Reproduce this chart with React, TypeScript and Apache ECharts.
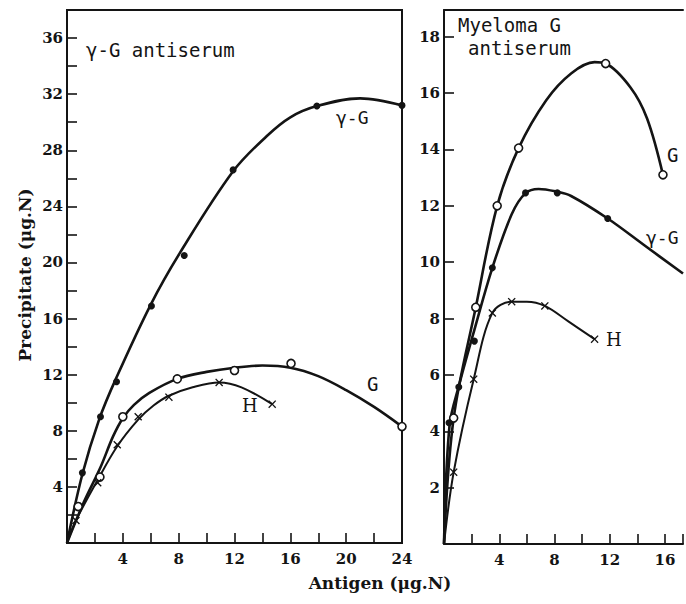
import React, { useEffect, useRef } from "react";
import * as echarts from "echarts";

// ---------- Data ----------
// Left panel: γ-G antiserum
const leftGammaPoints = [[1.1, 5.0], [2.4, 9.0], [3.55, 11.5], [6.05, 16.9], [8.4, 20.5], [11.9, 26.6], [17.9, 31.15], [24, 31.2]];
const leftGammaCurve = [[0, 0], [1.1, 4.9], [2.3, 8.8], [3.5, 11.7], [6, 17.0], [8.1, 20.7], [11.9, 26.5], [14.3, 29.0], [16, 30.35], [17.9, 31.15], [21, 31.7], [24, 31.2]];
const leftGPoints = [[0.8, 2.6], [2.36, 4.7], [4.0, 9.0], [7.9, 11.7], [12.0, 12.3], [16.05, 12.8], [24, 8.3]];
const leftGCurve = [[0, 0], [1.2, 2.9], [2.4, 5.4], [3.3, 7.6], [4, 8.9], [4.8, 9.85], [5.9, 10.7], [7.9, 11.7], [10, 12.2], [12, 12.5], [14, 12.65], [16, 12.5], [18, 11.9], [20, 10.9], [22, 9.7], [24, 8.3]];
const leftHPoints = [[0.64, 1.6], [2.2, 4.3], [3.6, 7.0], [5.1, 9.0], [7.3, 10.4], [10.9, 11.45], [14.7, 9.9]];
const leftHCurve = [[0, 0], [0.64, 1.6], [2.2, 4.5], [3.6, 6.9], [5.1, 8.8], [6.2, 9.8], [7.3, 10.5], [9, 11.1], [10.9, 11.45], [12.5, 11.1], [14.7, 9.9]];

// Right panel: Myeloma G antiserum
const rightGPoints = [[0.7, 4.47], [2.3, 8.4], [3.85, 12.0], [5.4, 14.05], [11.7, 17.05], [15.85, 13.1]];
const rightGCurve = [[0, 0], [0.7, 4.47], [2.3, 8.4], [3.85, 12.0], [5.4, 14.05], [7.4, 15.75], [9.2, 16.7], [10.9, 17.1], [11.7, 17.05], [13.5, 16.2], [14.7, 15.1], [15.85, 13.1]];
const rightGammaPoints = [[0.36, 4.3], [1.07, 5.57], [2.2, 7.2], [3.5, 9.8], [5.9, 12.46], [8.2, 12.46], [11.85, 11.55]];
const rightGammaCurve = [[0, 0], [0.4, 4.2], [1.07, 5.6], [2.2, 7.6], [3.5, 9.8], [4.9, 11.7], [5.9, 12.45], [6.85, 12.6], [8.2, 12.5], [9.2, 12.35], [11.85, 11.55], [14.5, 10.6], [17.3, 9.6]];
const rightHPoints = [[0.7, 2.55], [2.15, 5.85], [3.5, 8.2], [4.9, 8.6], [7.3, 8.45], [10.9, 7.27]];
const rightHCurve = [[0, 0], [0.7, 2.55], [2.15, 5.85], [3.5, 8.2], [4.9, 8.6], [6, 8.6], [7.3, 8.45], [9, 7.9], [10.9, 7.27]];

// Axis label steps
const leftXLabelStep = 4;
const leftYLabelStep = 4;
const rightXLabelStep = 4;
const rightYLabelStep = 2;

const INK = "#141414";
const CROSS = "path://M0,1.2 L1.2,0 L5,3.8 L8.8,0 L10,1.2 L6.2,5 L10,8.8 L8.8,10 L5,6.2 L1.2,10 L0,8.8 L3.8,5 Z";
const tickFont = "DejaVu Serif";
const letterFont = "DejaVu Sans Mono";

function stepFormatter(step: number) {
  return (v: number) => {
    if (v <= 0) return "";
    const r = v / step;
    return Math.abs(r - Math.round(r)) < 1e-6 ? String(Math.round(v)) : "";
  };
}

function makeXAxis(gridIndex: number, max: number, step: number) {
  return {
    type: "value",
    gridIndex,
    min: 0,
    max,
    interval: 2,
    axisLine: { show: true, lineStyle: { color: INK, width: 2 } },
    axisTick: { show: true, inside: true, length: 10, lineStyle: { color: INK, width: 1.6 } },
    axisLabel: {
      formatter: stepFormatter(step),
      color: INK,
      fontFamily: tickFont,
      fontWeight: "bold",
      fontSize: 15,
      margin: 8,
    },
    splitLine: { show: false },
  };
}

function makeTopAxis(gridIndex: number, max: number) {
  return {
    type: "value",
    gridIndex,
    position: "top",
    min: 0,
    max,
    axisLine: { show: true, lineStyle: { color: INK, width: 2 } },
    axisTick: { show: false },
    axisLabel: { show: false },
    splitLine: { show: false },
  };
}

function makeYAxis(gridIndex: number, max: number, step: number) {
  return {
    type: "value",
    gridIndex,
    min: 0,
    max,
    interval: 2,
    axisLine: { show: true, lineStyle: { color: INK, width: 2 } },
    axisTick: { show: true, inside: true, length: 10, lineStyle: { color: INK, width: 1.6 } },
    axisLabel: {
      formatter: stepFormatter(step),
      color: INK,
      fontFamily: tickFont,
      fontWeight: "bold",
      fontSize: 15,
      margin: 4,
    },
    splitLine: { show: false },
  };
}

function curve(data: number[][], axis: number, width = 2.6) {
  return {
    type: "line",
    xAxisIndex: axis,
    yAxisIndex: axis,
    data,
    smooth: 0.35,
    showSymbol: false,
    symbol: "none",
    lineStyle: { color: INK, width },
    z: 2,
    silent: true,
  };
}

function points(data: number[][], axis: number, kind: "dot" | "open" | "cross") {
  const base: any = {
    type: "scatter",
    xAxisIndex: axis,
    yAxisIndex: axis,
    data,
    z: 5,
    silent: true,
  };
  if (kind === "dot") {
    base.symbol = "circle";
    base.symbolSize = 7;
    base.itemStyle = { color: INK, opacity: 1 };
  } else if (kind === "open") {
    base.symbol = "circle";
    base.symbolSize = 8;
    base.itemStyle = { color: "#ffffff", borderColor: INK, borderWidth: 1.6, opacity: 1 };
  } else {
    base.symbol = CROSS;
    base.symbolSize = 8;
    base.itemStyle = { color: INK, opacity: 1 };
  }
  return base;
}

function txt(text: string, x: number, y: number, font: string, size: number, weight = "normal", align = "left") {
  return {
    type: "text",
    x,
    y,
    style: {
      text,
      fill: INK,
      font: `${weight} ${size}px "${font}"`,
      textAlign: align,
      textVerticalAlign: "middle",
    },
    z: 10,
  };
}

export default function App() {
  const ref = useRef<HTMLDivElement>(null);
  useEffect(() => {
    if (!ref.current) return;
    const chart = echarts.init(ref.current, null, { renderer: "svg" });
    const option: any = {
      animation: false,
      backgroundColor: "#ffffff",
      grid: [
        { left: 67, top: 10, width: 335, height: 533, show: true, borderColor: INK, borderWidth: 2, backgroundColor: "transparent" },
        { left: 444, top: 10, width: 242, height: 534, show: false },
      ],
      xAxis: [makeXAxis(0, 24, leftXLabelStep), makeXAxis(1, 17.3, rightXLabelStep), makeTopAxis(1, 17.3)],
      yAxis: [makeYAxis(0, 38, leftYLabelStep), makeYAxis(1, 18.95, rightYLabelStep)],
      series: [
        curve(leftGammaCurve, 0),
        curve(leftGCurve, 0),
        curve(leftHCurve, 0, 2),
        points(leftGammaPoints, 0, "dot"),
        points(leftGPoints, 0, "open"),
        points(leftHPoints, 0, "cross"),
        curve(rightGCurve, 1),
        curve(rightGammaCurve, 1),
        curve(rightHCurve, 1, 2),
        points(rightGPoints, 1, "open"),
        points(rightGammaPoints, 1, "dot"),
        points(rightHPoints, 1, "cross"),
      ],
      graphic: [
        txt("γ-G antiserum", 86, 50, letterFont, 19, "normal"),
        txt("γ-G", 336, 117, letterFont, 18, "normal"),
        txt("G", 367, 384, letterFont, 19, "normal"),
        txt("H", 242, 405, tickFont, 18, "normal"),
        txt("Myeloma G", 458, 25, letterFont, 19, "normal"),
        txt("antiserum", 468, 48, letterFont, 19, "normal"),
        txt("G", 667, 155, letterFont, 19, "normal"),
        txt("γ-G", 646, 237, letterFont, 18, "normal"),
        txt("H", 606, 339, tickFont, 18, "normal"),
        txt("Antigen (μg.N)", 380, 583, tickFont, 17, "bold", "center"),
        {
          type: "text",
          x: 25,
          y: 275,
          rotation: Math.PI / 2,
          style: {
            text: "Precipitate (μg.N)",
            fill: INK,
            font: `bold 17px "${tickFont}"`,
            textAlign: "center",
            textVerticalAlign: "middle",
          },
          z: 10,
        },
      ],
    };
    chart.setOption(option);
    return () => chart.dispose();
  }, []);
  return (
    <div
      ref={ref}
      style={{ position: "absolute", left: 0, top: 0, width: 686, height: 604, overflow: "hidden", background: "#fff" }}
    />
  );
}
